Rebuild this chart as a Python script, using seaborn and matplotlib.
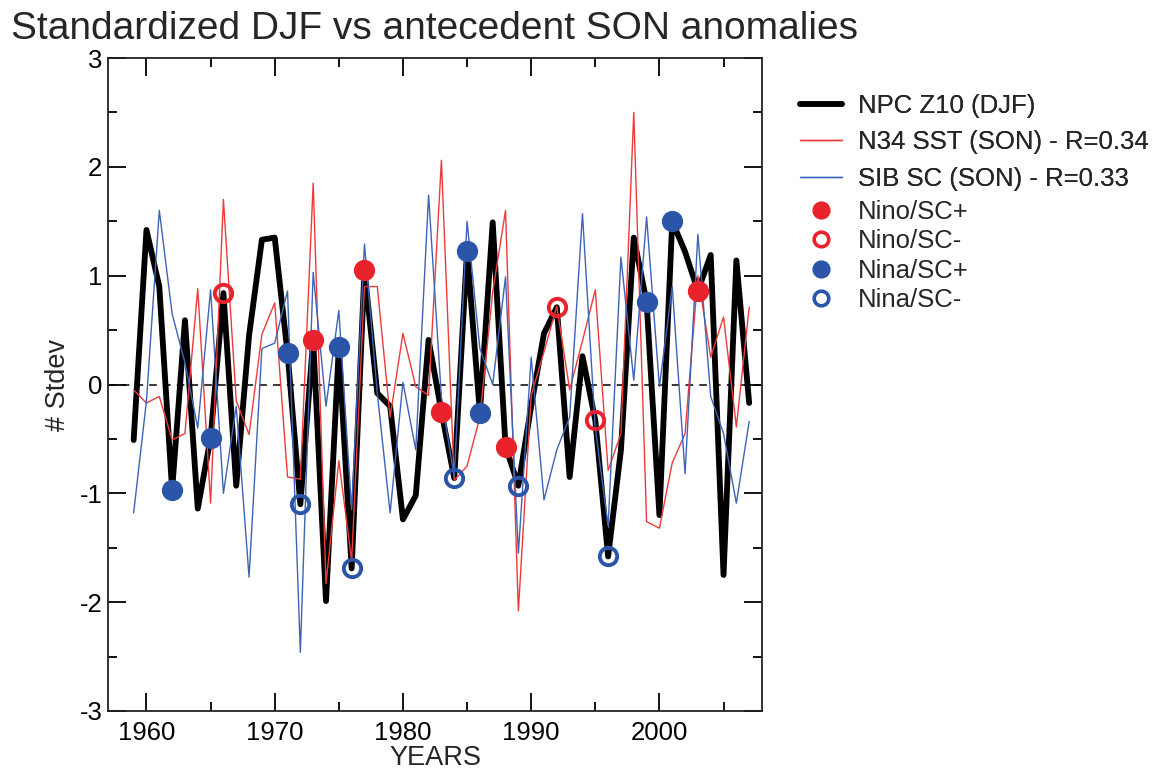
import matplotlib
matplotlib.use('Agg')
import matplotlib.pyplot as plt
from matplotlib.lines import Line2D
from matplotlib.ticker import MultipleLocator
import seaborn as sns
import pandas as pd

sns.set_style('ticks')
plt.rcParams['font.family'] = ['Liberation Sans Narrow', 'Liberation Sans', 'DejaVu Sans']
plt.rcParams['axes.unicode_minus'] = False

years = list(range(1959, 2008))

npc_z10 = [-0.51, 1.42, 0.90, -0.97, 0.59, -1.14, -0.49, 0.84, -0.93, 0.45,
           1.33, 1.35, 0.29, -1.10, 0.41, -1.99, 0.34, -1.69, 1.05, -0.08,
           -0.20, -1.24, -1.02, 0.41, -0.25, -0.86, 1.23, -0.26, 1.49, -0.57,
           -0.93, -0.20, 0.47, 0.71, -0.85, 0.26, -0.33, -1.58, -0.60, 1.35,
           0.76, -1.20, 1.50, 1.22, 0.86, 1.19, -1.75, 1.14, -0.17]

n34_sst = [-0.05, -0.17, -0.11, -0.51, -0.45, 0.88, -1.09, 1.70, -0.15, -0.46,
           0.46, 0.75, -0.85, -0.87, 1.85, -1.83, -0.70, -1.62, 0.90, 0.90,
           -0.30, 0.47, -0.02, -0.10, 2.06, -0.88, -0.75, -0.30, 0.85, 1.60,
           -2.08, -0.10, 0.30, 0.72, -0.05, 0.40, 0.87, -0.79, -0.45, 2.50,
           -1.26, -1.32, -0.72, -0.45, 1.00, 0.25, 0.62, -0.39, 0.71]

sib_sc = [-1.18, -0.15, 1.60, 0.65, 0.20, -0.40, 0.87, -1.00, -0.20, -1.77,
          0.33, 0.38, 0.86, -2.46, 1.03, -0.20, 0.68, -1.15, 1.29, -0.08,
          -1.18, 0.02, -0.60, 1.74, -0.12, -0.85, 1.50, 0.33, 0.00, 0.99,
          -1.55, 0.25, -1.06, -0.60, -0.30, 1.57, -0.40, -1.30, 1.17, 0.04,
          1.54, -0.02, 0.90, -0.82, 1.38, -0.11, -0.45, -1.09, -0.34]

nino_scp = [1973, 1977, 1983, 1988, 2003]
nino_scm = [1966, 1992, 1995]
nina_scp = [1962, 1965, 1971, 1975, 1985, 1986, 1999, 2001]
nina_scm = [1972, 1976, 1984, 1989, 1996]

RED = '#e8232b'
BLUE = '#2a55a8'
RED_LINE = '#f03a3a'
BLUE_LINE = '#3d63b8'

df = pd.DataFrame({'year': years, 'npc': npc_z10, 'n34': n34_sst, 'sib': sib_sc})

fig = plt.figure(figsize=(11.7, 7.71), dpi=100)
ax = fig.add_axes([108 / 1170, 1 - 711 / 771, (762 - 108) / 1170, (711 - 58) / 771])

ax.axhline(0, color='black', lw=1.1, ls=(0, (5, 4)), zorder=1)
sns.lineplot(data=df, x='year', y='npc', color='black', lw=4.2, ax=ax, zorder=2)
sns.lineplot(data=df, x='year', y='n34', color=RED_LINE, lw=1.0, ax=ax, zorder=3)
sns.lineplot(data=df, x='year', y='sib', color=BLUE_LINE, lw=1.0, ax=ax, zorder=4)

events = [(nino_scp, RED, True), (nino_scm, RED, False),
          (nina_scp, BLUE, True), (nina_scm, BLUE, False)]
for yrs, col, filled in events:
    sub = df[df['year'].isin(yrs)]
    sns.lineplot(data=sub, x='year', y='npc', ax=ax, ls='', marker='o', ms=12.5,
                 mfc=col if filled else 'none', mec=col, mew=2.8, zorder=5)

ax.set_xlim(1957, 2008)
ax.set_ylim(-3, 3)
ax.set_xticks(range(1960, 2001, 10))
ax.xaxis.set_minor_locator(MultipleLocator(5))
ax.set_yticks(range(-3, 4))
ax.yaxis.set_minor_locator(MultipleLocator(0.5))
ax.tick_params(which='both', direction='in', top=True, right=True, width=1.3,
               labelsize=18.5, colors='black')
ax.tick_params(which='major', length=13)
ax.tick_params(which='minor', length=6.5)
ax.tick_params(axis='x', which='major', pad=7)
ax.tick_params(axis='y', which='major', pad=4)
for s in ax.spines.values():
    s.set_linewidth(1.3)
    s.set_color('#222222')

ax.set_xlabel('YEARS', fontsize=19.5, labelpad=0)
ax.set_ylabel('# Stdev', fontsize=19.5, labelpad=6)

fig.text(0.009, 0.963, 'Standardized DJF vs antecedent SON anomalies',
         fontsize=28, va='center', ha='left')

line_handles = [Line2D([], [], color='black', lw=4),
                Line2D([], [], color=RED_LINE, lw=1),
                Line2D([], [], color=BLUE_LINE, lw=1)]
line_labels = ['NPC Z10 (DJF)', 'N34 SST (SON) - R=0.34', 'SIB SC (SON) - R=0.33']
leg1 = fig.legend(line_handles, line_labels, loc='upper left',
                  bbox_to_anchor=(800 / 1170, 1 - 94 / 771), frameon=False,
                  fontsize=18.5, handlelength=1.65, handletextpad=0.62,
                  labelspacing=0.48, borderpad=0, borderaxespad=0)

mark_handles = [Line2D([], [], ls='', marker='o', ms=10.5, mfc=RED, mec=RED, mew=2.6),
                Line2D([], [], ls='', marker='o', ms=10.5, mfc='none', mec=RED, mew=2.6),
                Line2D([], [], ls='', marker='o', ms=10.5, mfc=BLUE, mec=BLUE, mew=2.6),
                Line2D([], [], ls='', marker='o', ms=10.5, mfc='none', mec=BLUE, mew=2.6)]
mark_labels = ['Nino/SC+', 'Nino/SC-', 'Nina/SC+', 'Nina/SC-']
leg2 = fig.legend(mark_handles, mark_labels, loc='upper left',
                  bbox_to_anchor=(800 / 1170, 1 - 200 / 771), frameon=False,
                  fontsize=18.5, handlelength=1.65, handletextpad=0.62,
                  labelspacing=0.21, borderpad=0, borderaxespad=0)
fig.add_artist(leg1)

fig.savefig('out.png', dpi=100)
plt.close(fig)
